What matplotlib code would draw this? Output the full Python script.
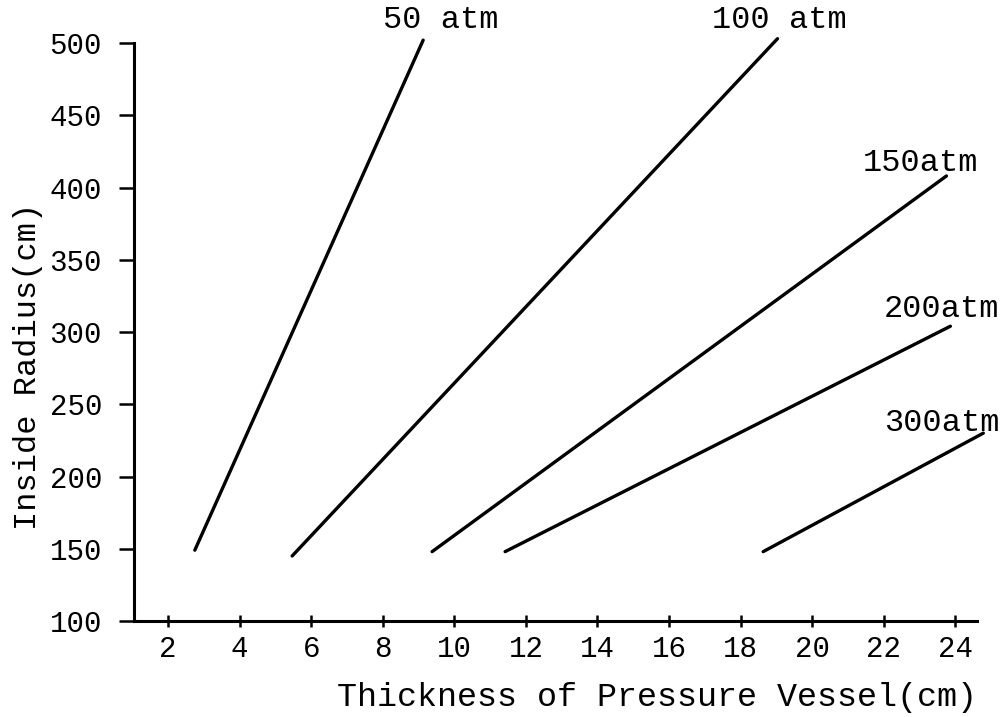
import matplotlib

matplotlib.use("Agg")
import matplotlib.pyplot as plt

plt.rcParams["font.family"] = ["Liberation Mono", "DejaVu Sans Mono"]

# Wall thickness (cm) vs inside radius (cm), one line per design pressure
pressures = ["50 atm", "100 atm", "150atm", "200atm", "300atm"]
thickness = [
    [2.75, 9.13],
    [5.47, 19.03],
    [9.38, 23.75],
    [11.42, 23.86],
    [18.63, 24.78],
]
radius = [
    [149, 502],
    [145, 503],
    [148, 408],
    [148, 304],
    [148, 230],
]

# label anchors (left edge, vertical centre) in data units
label_x = [8.0, 17.2, 21.4, 22.0, 22.0]
label_y = [516, 516, 417, 316, 237]

x_ticks = [2, 4, 6, 8, 10, 12, 14, 16, 18, 20, 22, 24]
y_ticks = [100, 150, 200, 250, 300, 350, 400, 450, 500]

fig = plt.figure(figsize=(10.05, 7.17), dpi=100)
ax = fig.add_axes([0.1333, 0.1339, 0.8387, 0.8061])

for xs, ys, name, lx, ly in zip(thickness, radius, pressures, label_x, label_y):
    ax.plot(xs, ys, color="black", lw=2.4, solid_capstyle="round", clip_on=False)
    ax.text(lx, ly, name, fontsize=23, ha="left", va="center", clip_on=False)

ax.set_xlim(1.05, 24.6)
ax.set_ylim(100, 500)
ax.set_xticks(x_ticks)
ax.set_yticks(y_ticks)

ax.spines["top"].set_visible(False)
ax.spines["right"].set_visible(False)
for side in ("left", "bottom"):
    ax.spines[side].set_linewidth(2.2)

ax.tick_params(axis="x", direction="inout", length=8, width=1.8, labelsize=21, pad=6)
ax.tick_params(axis="y", direction="out", length=11, width=1.8, labelsize=21, pad=12)

ax.set_xlabel("Thickness of Pressure Vessel(cm)", fontsize=24)
ax.set_ylabel("Inside Radius(cm)", fontsize=23)
ax.xaxis.set_label_coords(0.62, -0.106)
ax.yaxis.set_label_coords(-0.108, 0.44)

fig.savefig("out.png", dpi=100)
